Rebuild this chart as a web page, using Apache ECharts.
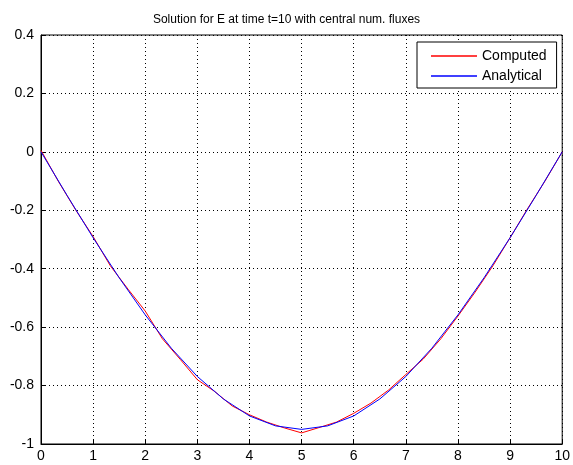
<!DOCTYPE html>
<html><head><meta charset="utf-8">
<script src="https://cdn.jsdelivr.net/npm/echarts@6/dist/echarts.min.js"></script>
<style>html,body{margin:0;padding:0;background:#fff}#c{width:573px;height:465px}</style>
</head><body><div id="c"></div>
<script>
const titleText = 'Solution for E at time t=10 with central num. fluxes';
const xAnalytical = [0,0.5,1,1.5,2,2.5,3,3.5,4,4.5,5,5.5,6,6.5,7,7.5,8,8.5,9,9.5,10];
const yAnalytical = [0,-0.149,-0.294,-0.431,-0.558,-0.672,-0.769,-0.846,-0.904,-0.938,-0.950,-0.938,-0.904,-0.846,-0.769,-0.672,-0.558,-0.431,-0.294,-0.149,0];
const xComputed = [0,0.33,0.67,1,1.33,1.67,2,2.33,2.67,3,3.33,3.67,4,4.33,4.67,5,5.33,5.67,6,6.33,6.67,7,7.33,7.67,8,8.33,8.67,9,9.33,9.67,10];
const yComputed = [0.005,-0.100,-0.200,-0.290,-0.390,-0.470,-0.545,-0.640,-0.710,-0.780,-0.820,-0.870,-0.900,-0.925,-0.945,-0.962,-0.944,-0.925,-0.895,-0.860,-0.815,-0.762,-0.710,-0.640,-0.562,-0.480,-0.390,-0.294,-0.196,-0.100,0];
const xTicks = {min:0,max:10,interval:1};
const yTicks = {min:-1,max:0.4,interval:0.2};

const chart = echarts.init(document.getElementById('c'));
const font = 'Liberation Sans, Arial, sans-serif';
chart.setOption({
  animation:false,
  title:{text:titleText,left:'center',top:9,textStyle:{fontFamily:font,fontSize:12,fontWeight:'normal',color:'#000'}},
  grid:{left:41,right:9,top:35,bottom:21,show:true,borderColor:'#000',borderWidth:1,backgroundColor:'#fff'},
  legend:{data:['Computed','Analytical'],orient:'vertical',left:417,top:42,width:144,
    padding:[7,10,5,14],itemGap:6,itemWidth:46,itemHeight:1.5,icon:'rect',
    borderColor:'#000',borderWidth:1,backgroundColor:'#fff',
    textStyle:{fontFamily:font,fontSize:14,color:'#000'}},
  xAxis:{type:'value',min:xTicks.min,max:xTicks.max,interval:xTicks.interval,
    axisLine:{onZero:false,lineStyle:{color:'#000'}},axisTick:{inside:true,length:5,lineStyle:{color:'#000'}},
    axisLabel:{color:'#000',fontFamily:font,fontSize:14,margin:5},
    splitLine:{show:true,lineStyle:{type:[1,3],color:'#000'}}},
  yAxis:{type:'value',min:yTicks.min,max:yTicks.max,interval:yTicks.interval,
    axisLine:{show:true,onZero:false,lineStyle:{color:'#000'}},axisTick:{show:true,inside:true,length:5,lineStyle:{color:'#000'}},
    axisLabel:{color:'#000',fontFamily:font,fontSize:14,margin:7,formatter:v=>String(Math.round(v*10)/10)},
    splitLine:{show:true,lineStyle:{type:[1,3],color:'#000'}}},
  series:[
    {name:'Computed',type:'line',symbol:'none',data:xComputed.map((x,i)=>[x,yComputed[i]]),lineStyle:{color:'#ff0000',width:1},itemStyle:{color:'#ff0000'}},
    {name:'Analytical',type:'line',symbol:'none',data:xAnalytical.map((x,i)=>[x,yAnalytical[i]]),lineStyle:{color:'#0000ff',width:1},itemStyle:{color:'#0000ff'}}
  ]
});
</script></body></html>
